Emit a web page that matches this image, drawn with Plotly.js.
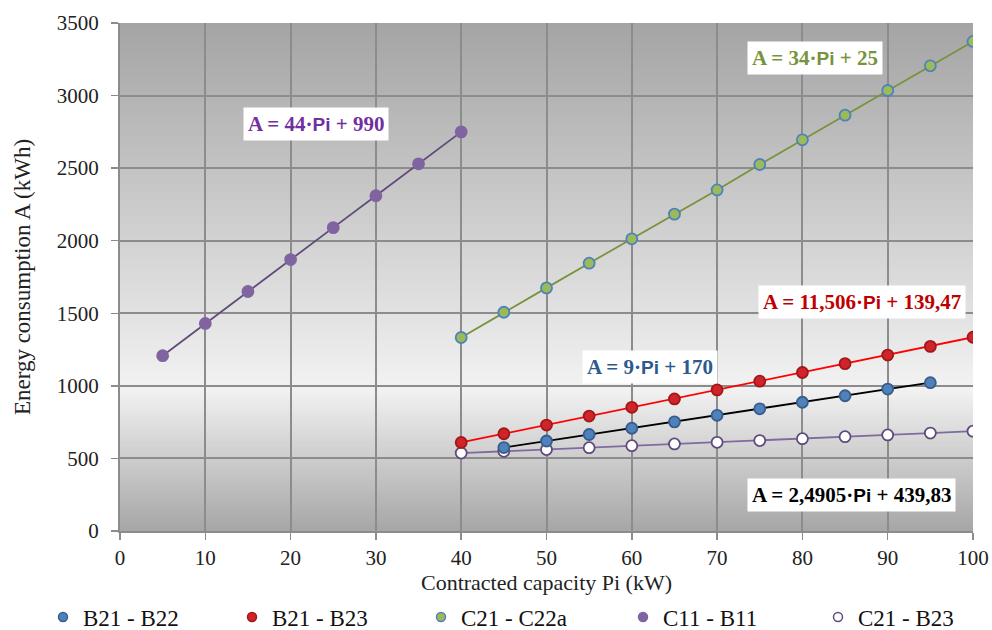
<!DOCTYPE html>
<html>
<head>
<meta charset="utf-8">
<script src="https://cdn.plot.ly/plotly-3.0.1.min.js"></script>
<style>html,body{margin:0;padding:0;background:#fff;}#chart{width:992px;height:630px;}</style>
</head>
<body>
<div id="chart"></div>
<script>
// ---- data ----
var xB22 = [45, 50, 55, 60, 65, 70, 75, 80, 85, 90, 95];
var yB22 = [575, 620, 665, 708, 752, 797, 842, 887, 932, 978, 1022];

var xB23 = [40, 45, 50, 55, 60, 65, 70, 75, 80, 85, 90, 95, 100];
var yB23 = [610, 670, 730, 792, 852, 910, 972, 1032, 1092, 1153, 1212, 1272, 1335];

var xC22a = [40, 45, 50, 55, 60, 65, 70, 75, 80, 85, 90, 95, 100];
var yC22a = [1333, 1507, 1675, 1845, 2013, 2183, 2350, 2525, 2695, 2865, 3035, 3205, 3373];

var xC11 = [5, 10, 15, 20, 25, 30, 35, 40];
var yC11 = [1208, 1430, 1650, 1870, 2090, 2310, 2530, 2750];

var xCB23 = [40, 45, 50, 55, 60, 65, 70, 75, 80, 85, 90, 95, 100];
var yCB23 = [537, 549, 561, 574, 588, 600, 611, 623, 636, 650, 662, 675, 688];

var seriesNames = ['B21 - B22', 'B21 - B23', 'C21 - C22a', 'C11 - B11', 'C21 - B23'];
var xTicks = [0, 10, 20, 30, 40, 50, 60, 70, 80, 90, 100];
var yTicks = [0, 500, 1000, 1500, 2000, 2500, 3000, 3500];

var eqTexts = ['A = 44·Pi + 990', 'A = 34·Pi + 25', 'A = 11,506·Pi + 139,47', 'A = 9·Pi + 170', 'A = 2,4905·Pi + 439,83'];

// ---- styling ----
var SERIF = 'Liberation Serif, Times New Roman, serif';
var styles = [
  {line: '#000000', fill: '#4F81BD', edge: '#385D8A'},
  {line: '#FF0000', fill: '#D0232A', edge: '#A01818'},
  {line: '#77933C', fill: '#9BBB59', edge: '#4F81BD'},
  {line: '#604A7B', fill: '#8064A2', edge: '#8064A2'},
  {line: '#7F6A9F', fill: '#FFFFFF', edge: '#604A7B'}
];
var xs = [xB22, xB23, xC22a, xC11, xCB23];
var ys = [yB22, yB23, yC22a, yC11, yCB23];

var traces = [];
var order = [3, 2, 4, 1, 0];
order.forEach(function(i){
  traces.push({
    x: xs[i], y: ys[i], type: 'scatter', mode: 'lines+markers',
    name: seriesNames[i], showlegend: false, hoverinfo: 'x+y',
    line: {color: styles[i].line, width: 1.8},
    marker: {size: 11, color: styles[i].fill, line: {color: styles[i].edge, width: 1.8}}
  });
});
// legend entries (markers only), each in its own legend box
var legendNames = ['legend', 'legend2', 'legend3', 'legend4', 'legend5'];
for (var i = 0; i < 5; i++) {
  traces.push({
    x: [null], y: [null], type: 'scatter', mode: 'markers',
    name: seriesNames[i], showlegend: true, legend: legendNames[i],
    marker: {size: 9, color: styles[i].fill, line: {color: styles[i].edge, width: 1.5}}
  });
}

// gradient background via thin bands
function lerp(a, b, t){ return Math.round(a + (b - a) * t); }
function grayAt(t){
  var top = 164, mid = 242, bot = 166, tm = 0.72;
  var v = t < tm ? lerp(top, mid, t / tm) : lerp(mid, bot, (t - tm) / (1 - tm));
  return 'rgb(' + v + ',' + v + ',' + v + ')';
}
var shapes = [];
var N = 170;
for (var k = 0; k < N; k++) {
  var t = (k + 0.5) / N;
  shapes.push({
    type: 'rect', xref: 'paper', yref: 'paper', layer: 'below',
    x0: 0, x1: 1, y1: 1 - k / N, y0: 1 - (k + 1) / N - 0.001,
    fillcolor: grayAt(t), line: {width: 0}
  });
}

function eq(s){ return s.replace('Pi', "<span style='font-family:Liberation Sans, Arial, sans-serif;font-size:19px'>Pi</span>"); }
var annPos = [
  {x: 23.0, y: 2804, c: '#7030A0'},
  {x: 81.5, y: 3259, c: '#77933C'},
  {x: 87.0, y: 1578, c: '#C00000'},
  {x: 62.1, y: 1128, c: '#2C5A8F'},
  {x: 85.8, y: 248, c: '#000000'}
];
var annotations = annPos.map(function(p, i){
  return {
    x: p.x, y: p.y, xref: 'x', yref: 'y', showarrow: false,
    text: '<b>' + eq(eqTexts[i]) + '</b>',
    font: {family: SERIF, size: 21, color: p.c},
    bgcolor: '#FFFFFF', borderpad: 4, xanchor: 'center', yanchor: 'middle'
  };
});

var legendMarkerX = [63, 252, 441, 643, 838];
var layout = {
  width: 992, height: 630,
  margin: {l: 120, r: 19, t: 23, b: 99},
  paper_bgcolor: '#FFFFFF', plot_bgcolor: '#C8C8C8',
  font: {family: SERIF, size: 21, color: '#222'},
  showlegend: true,
  xaxis: {
    range: [0, 100], tickvals: xTicks, ticktext: xTicks.map(String),
    showgrid: true, gridcolor: '#8C8C8C', gridwidth: 2,
    zeroline: false, showline: true, linecolor: '#8C8C8C', linewidth: 2,
    ticks: 'outside', ticklen: 7, tickcolor: '#8C8C8C', tickwidth: 1.5,
    tickfont: {family: SERIF, size: 21, color: '#222'},
    title: {text: 'Contracted capacity Pi (kW)', font: {family: SERIF, size: 22, color: '#222'}, standoff: 10},
    fixedrange: true
  },
  yaxis: {
    range: [0, 3500], tickvals: yTicks, ticktext: yTicks.map(String),
    showgrid: true, gridcolor: '#8C8C8C', gridwidth: 2,
    zeroline: false, showline: true, linecolor: '#8C8C8C', linewidth: 2,
    ticks: 'outside', ticklen: 7, tickcolor: '#8C8C8C', tickwidth: 1.5,
    ticklabelstandoff: 8,
    tickfont: {family: SERIF, size: 21, color: '#222'},
    title: {text: 'Energy consumption A (kWh)', font: {family: SERIF, size: 23, color: '#222'}, standoff: 20},
    fixedrange: true
  },
  shapes: shapes,
  annotations: annotations
};
legendNames.forEach(function(nm, i){
  layout[nm] = {
    orientation: 'h', xref: 'container', yref: 'container',
    x: (legendMarkerX[i] - 20) / 992, xanchor: 'left', y: 1 - 617 / 630, yanchor: 'middle',
    font: {family: SERIF, size: 23, color: '#111'},
    itemwidth: 30, bgcolor: 'rgba(0,0,0,0)', borderwidth: 0
  };
});

Plotly.newPlot('chart', traces, layout, {displayModeBar: false, staticPlot: true});
</script>
</body>
</html>
